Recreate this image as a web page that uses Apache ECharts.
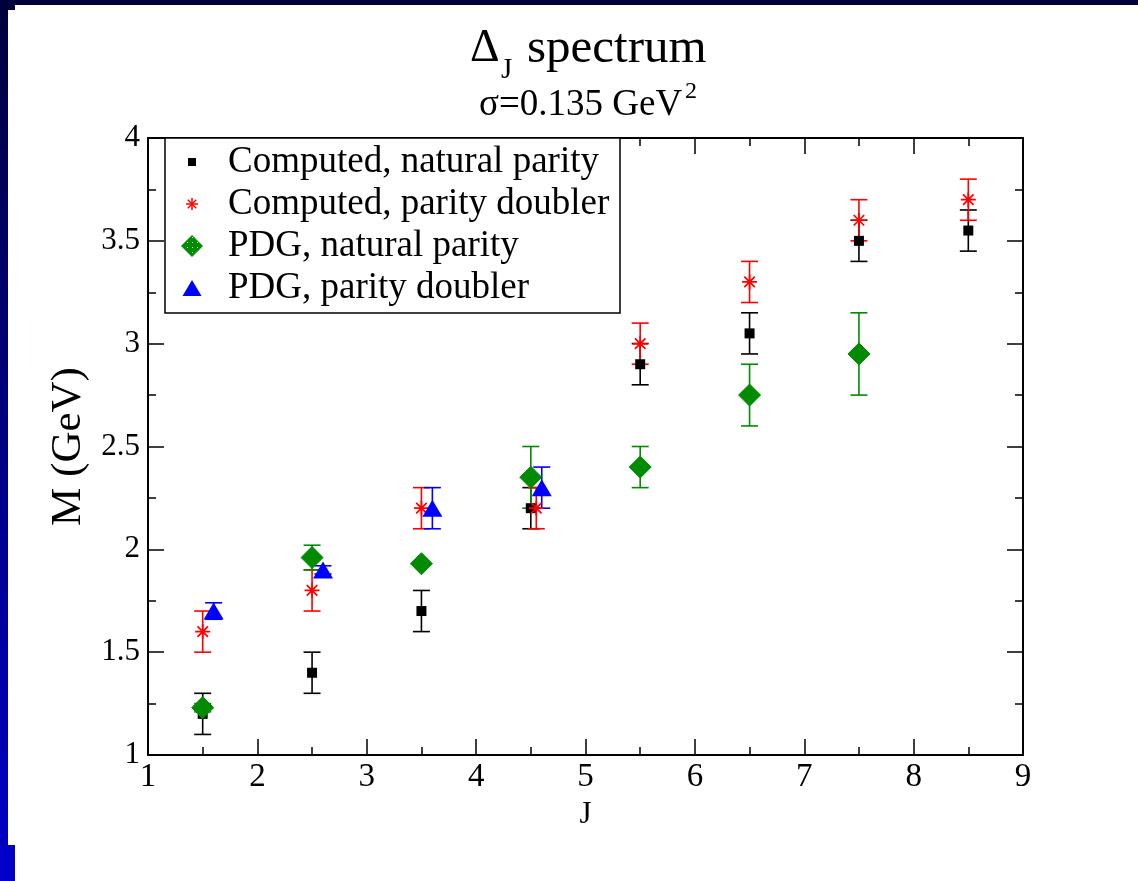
<!DOCTYPE html>
<html>
<head>
<meta charset="utf-8">
<script src="https://cdn.jsdelivr.net/npm/echarts@6/dist/echarts.min.js"></script>
<style>
  html, body { margin: 0; padding: 0; background: #fff; }
  #chart { width: 1138px; height: 881px; }
</style>
</head>
<body>
<div id="chart"></div>
<script>
// Axis ticks
const xTicks = [1, 2, 3, 4, 5, 6, 7, 8, 9];
const yTicks = [1, 1.5, 2, 2.5, 3, 3.5, 4];

// Computed, natural parity
const natJ   = [1.5, 2.5, 3.5, 4.5, 5.5, 6.5, 7.5, 8.5];
const natM   = [1.2, 1.4, 1.7, 2.2, 2.9, 3.05, 3.5, 3.55];
const natErr = [0.1, 0.1, 0.1, 0.1, 0.1, 0.1, 0.1, 0.1];

// Computed, parity doubler
const dblJ   = [1.5, 2.5, 3.5, 4.55, 5.5, 6.5, 7.5, 8.5];
const dblM   = [1.6, 1.8, 2.2, 2.2, 3.0, 3.3, 3.6, 3.7];
const dblErr = [0.1, 0.1, 0.1, 0.1, 0.1, 0.1, 0.1, 0.1];

// PDG, natural parity
const pdgNatJ   = [1.5, 2.5, 3.5, 4.5, 5.5, 6.5, 7.5];
const pdgNatM   = [1.23, 1.96, 1.93, 2.35, 2.4, 2.75, 2.95];
const pdgNatErr = [0.02, 0.06, 0, 0.15, 0.1, 0.15, 0.2];

// PDG, parity doubler
const pdgDblJ   = [1.6, 2.6, 3.6, 4.6];
const pdgDblM   = [1.7, 1.9, 2.2, 2.3];
const pdgDblErr = [0.04, 0.02, 0.1, 0.1];

const FONT = '"Liberation Serif", "DejaVu Serif", serif';
const BLACK = '#000000', RED = '#ff0000', GREEN = '#008b00', BLUE = '#0000ff';

// dotted fill for the PDG diamonds
const pat = document.createElement('canvas');
pat.width = 5; pat.height = 5;
const pg = pat.getContext('2d');
pg.fillStyle = GREEN; pg.fillRect(0, 0, 5, 5);
pg.fillStyle = '#e8f8e8'; pg.fillRect(2, 2, 1, 1);
const dotFill = { image: pat, repeat: 'repeat' };

const ASTERISK = 'path://M-1,0L1,0M0,-1L0,1M-0.7,-0.7L0.7,0.7M-0.7,0.7L0.7,-0.7';

function errorBars(xs, ys, es, color) {
  return {
    type: 'custom',
    silent: true,
    data: xs.map((x, i) => [x, ys[i] - es[i], ys[i] + es[i]]),
    encode: { x: 0, y: [1, 2] },
    renderItem(params, api) {
      const lo = api.coord([api.value(0), api.value(1)]);
      const hi = api.coord([api.value(0), api.value(2)]);
      if (Math.abs(lo[1] - hi[1]) < 0.5) return null;
      const w = 8.5;
      const st = { stroke: color, lineWidth: 1.6 };
      return {
        type: 'group',
        children: [
          { type: 'line', shape: { x1: lo[0], y1: lo[1], x2: hi[0], y2: hi[1] }, style: st },
          { type: 'line', shape: { x1: lo[0] - w, y1: lo[1], x2: lo[0] + w, y2: lo[1] }, style: st },
          { type: 'line', shape: { x1: hi[0] - w, y1: hi[1], x2: hi[0] + w, y2: hi[1] }, style: st }
        ]
      };
    }
  };
}

function pts(xs, ys) { return xs.map((x, i) => [x, ys[i]]); }

const axisCommon = {
  type: 'value',
  axisLine: { show: true, onZero: false, lineStyle: { color: BLACK, width: 2 } },
  axisTick: { show: true, inside: true, length: 16, lineStyle: { color: BLACK, width: 1.5 } },
  minorTick: { show: true, splitNumber: 2, length: 8, lineStyle: { color: BLACK, width: 1.5 } },
  splitLine: { show: false },
  minorSplitLine: { show: false }
};

const chart = echarts.init(document.getElementById('chart'), null, { renderer: 'canvas' });

const legendRows = [
  { label: 'Computed, natural parity', y: 162 },
  { label: 'Computed, parity doubler', y: 204 },
  { label: 'PDG, natural parity', y: 246 },
  { label: 'PDG, parity doubler', y: 288 }
];

function legendAsterisk(cx, cy, r) {
  const d = r * 0.7;
  const st = { stroke: RED, lineWidth: 1.5 };
  return {
    type: 'group', z: 11,
    children: [
      { type: 'line', z: 11, shape: { x1: cx - r, y1: cy, x2: cx + r, y2: cy }, style: st },
      { type: 'line', z: 11, shape: { x1: cx, y1: cy - r, x2: cx, y2: cy + r }, style: st },
      { type: 'line', z: 11, shape: { x1: cx - d, y1: cy - d, x2: cx + d, y2: cy + d }, style: st },
      { type: 'line', z: 11, shape: { x1: cx - d, y1: cy + d, x2: cx + d, y2: cy - d }, style: st }
    ]
  };
}

const option = {
  animation: false,
  backgroundColor: '#ffffff',
  grid: { left: 148, right: 115, top: 138, bottom: 126, containLabel: false },
  xAxis: [
    Object.assign({}, axisCommon, {
      position: 'bottom', min: xTicks[0], max: xTicks[xTicks.length - 1], interval: 1,
      axisLabel: { show: true, color: BLACK, fontFamily: FONT, fontSize: 33, margin: 6 },
      name: 'J', nameLocation: 'middle', nameGap: 42,
      nameTextStyle: { color: BLACK, fontFamily: FONT, fontSize: 31 }
    }),
    Object.assign({}, axisCommon, {
      position: 'top', min: xTicks[0], max: xTicks[xTicks.length - 1], interval: 1,
      axisLabel: { show: false }
    })
  ],
  yAxis: [
    Object.assign({}, axisCommon, {
      position: 'left', min: yTicks[0], max: yTicks[yTicks.length - 1], interval: 0.5,
      axisLabel: { show: true, color: BLACK, fontFamily: FONT, fontSize: 31, margin: 8 },
      name: 'M (GeV)', nameLocation: 'middle', nameGap: 58, nameRotate: 90,
      nameTextStyle: { color: BLACK, fontFamily: FONT, fontSize: 43 }
    }),
    Object.assign({}, axisCommon, {
      position: 'right', min: yTicks[0], max: yTicks[yTicks.length - 1], interval: 0.5,
      axisLabel: { show: false }
    })
  ],
  series: [
    errorBars(natJ, natM, natErr, BLACK),
    { type: 'scatter', name: legendRows[0].label, data: pts(natJ, natM), symbol: 'rect', symbolSize: 10,
      itemStyle: { color: BLACK, opacity: 1 } },
    errorBars(dblJ, dblM, dblErr, RED),
    { type: 'scatter', name: legendRows[1].label, data: pts(dblJ, dblM), symbol: ASTERISK, symbolSize: 15,
      itemStyle: { color: 'transparent', borderColor: RED, borderWidth: 1.7, opacity: 1 } },
    errorBars(pdgNatJ, pdgNatM, pdgNatErr, GREEN),
    { type: 'scatter', name: legendRows[2].label, data: pts(pdgNatJ, pdgNatM), symbol: 'diamond', symbolSize: 22,
      itemStyle: { color: dotFill, borderColor: GREEN, borderWidth: 1, opacity: 1 } },
    errorBars(pdgDblJ, pdgDblM, pdgDblErr, BLUE),
    { type: 'scatter', name: legendRows[3].label, data: pts(pdgDblJ, pdgDblM), symbol: 'triangle', symbolSize: [20, 17],
      itemStyle: { color: BLUE, opacity: 1 } }
  ],
  graphic: [
    // slide frame
    { type: 'rect', z: -10, shape: { x: 0, y: 0, width: 8, height: 881 },
      style: { fill: new echarts.graphic.LinearGradient(0, 0, 0, 1, [
        { offset: 0, color: '#00003c' }, { offset: 1, color: '#0000c8' }]) } },
    { type: 'rect', z: -10, shape: { x: 0, y: 0, width: 1138, height: 5 }, style: { fill: '#00003c' } },
    { type: 'rect', z: -10, shape: { x: 0, y: 0, width: 15, height: 10 }, style: { fill: '#00003c' } },
    { type: 'rect', z: -10, shape: { x: 0, y: 845, width: 15, height: 36 }, style: { fill: '#0000c8' } },
    // title
    { type: 'text', x: 470, y: 49, style: { text: 'Δ', font: '46px ' + FONT, fill: BLACK, verticalAlign: 'middle' } },
    { type: 'text', x: 501, y: 70, style: { text: 'J', font: '29px ' + FONT, fill: BLACK, verticalAlign: 'middle' } },
    { type: 'text', x: 527, y: 49, style: { text: 'spectrum', font: '49px ' + FONT, fill: BLACK, verticalAlign: 'middle' } },
    { type: 'text', x: 479, y: 105, style: { text: 'σ=0.135 GeV', font: '37px ' + FONT, fill: BLACK, verticalAlign: 'middle' } },
    { type: 'text', x: 685, y: 92, style: { text: '2', font: '24px ' + FONT, fill: BLACK, verticalAlign: 'middle' } },
    // legend box
    { type: 'rect', z: 10, shape: { x: 165, y: 138, width: 455, height: 175 },
      style: { fill: '#ffffff', stroke: BLACK, lineWidth: 1.5 } },
    { type: 'rect', z: 11, shape: { x: 188, y: legendRows[0].y - 4, width: 8, height: 8 }, style: { fill: BLACK } },
    legendAsterisk(192, legendRows[1].y, 6),
    { type: 'polygon', z: 11, shape: { points: [[192, legendRows[2].y - 10.5], [202.5, legendRows[2].y], [192, legendRows[2].y + 10.5], [181.5, legendRows[2].y]] },
      style: { fill: dotFill, stroke: GREEN, lineWidth: 1 } },
    { type: 'polygon', z: 11, shape: { points: [[192, legendRows[3].y - 8], [201.5, legendRows[3].y + 8], [182.5, legendRows[3].y + 8]] },
      style: { fill: BLUE } }
  ].concat(legendRows.map(r => ({
    type: 'text', z: 11, x: 228, y: r.y,
    style: { text: r.label, font: '37px ' + FONT, fill: BLACK, verticalAlign: 'middle' }
  })))
};

chart.setOption(option);
</script>
</body>
</html>
